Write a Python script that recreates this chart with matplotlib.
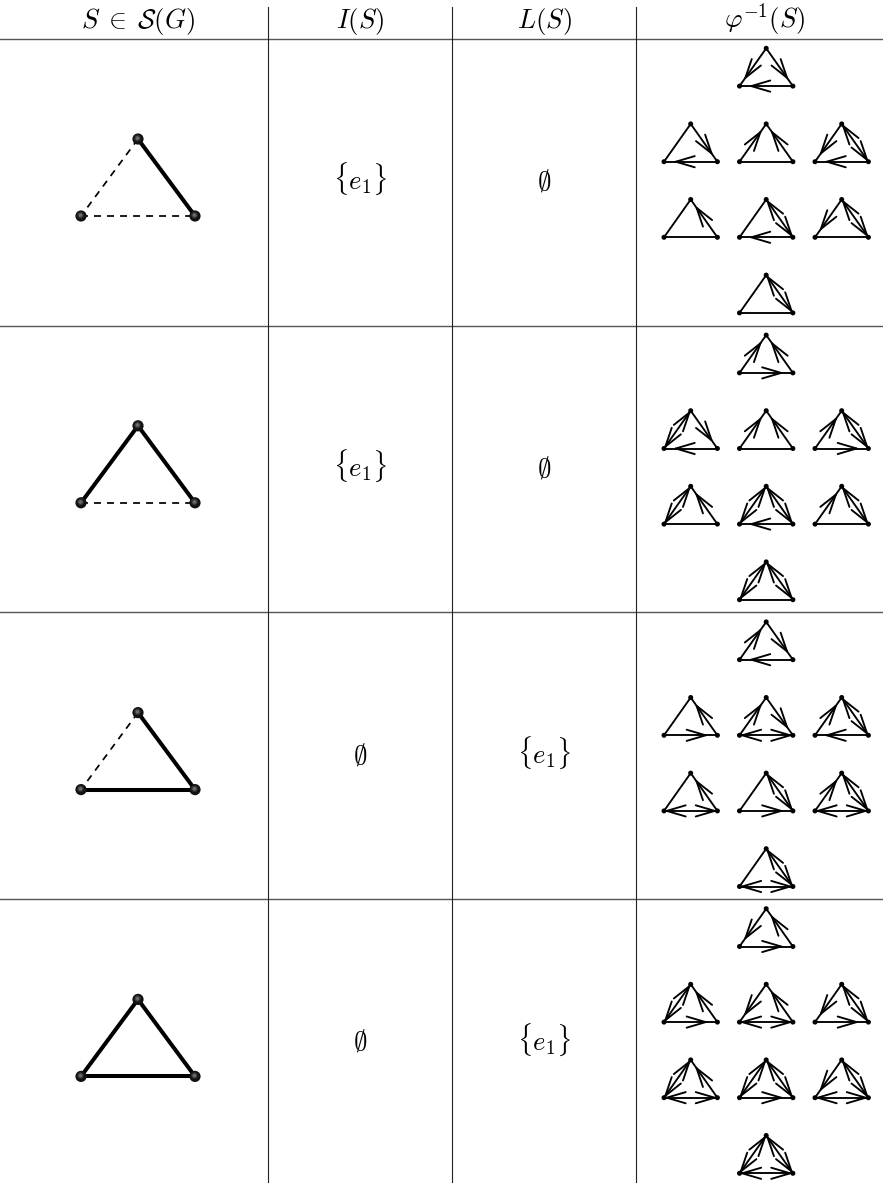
import numpy as np
import matplotlib
matplotlib.use("Agg")
import matplotlib.pyplot as plt
from matplotlib.patches import Circle

plt.rcParams['mathtext.fontset'] = 'cm'

# table text
headers = [r"$S\;\in\;\mathcal{S}(G)$", r"$I(S)$", r"$L(S)$", r"$\varphi^{-1}(S)$"]
col_I = [r"$\{e_1\}$", r"$\{e_1\}$", r"$\emptyset$", r"$\emptyset$"]
col_L = [r"$\emptyset$", r"$\emptyset$", r"$\{e_1\}$", r"$\{e_1\}$"]

# big triangles: which edge is solid (left, right, bottom)
solid = [[0, 1, 0], [1, 1, 0], [0, 1, 1], [1, 1, 1]]

# small triangles, 8 per row
# side edges: n none, d towards the base, u towards the top, b both
# bottom edge: n none, l left, r right, b both
left_edge = ["dnudnndn", "ubuubbub", "unuunnun", "dbddbbdb"]
right_edge = ["ddububbb", "udububbb", "dudbubbb", "uuububbb"]
bottom_edge = ["llnlnlnn", "rlnrnlnn", "lrblbrbb", "rrbrbrbb"]

# layout, pixels
W, H = 883, 1183
header_y = 38.7
row_h = 286.8
vlines = [268, 452, 636]
fs = 19.3

fig = plt.figure(figsize=(W / 100, H / 100), dpi=100)
ax = fig.add_axes([0, 0, 1, 1])
ax.set_xlim(0, W)
ax.set_ylim(H, 0)
ax.axis("off")

rule = "#555555"
for i in range(5):
    ax.plot([0, W], [header_y + i * row_h] * 2, color=rule, lw=1.0)
for x in vlines:
    ax.plot([x, x], [7, H], color="#222222", lw=0.8)

col_x = [138, 360, 544, 765]
for x, h in zip(col_x, headers):
    ax.text(x, 28, h, ha="center", va="baseline", fontsize=fs)


def sphere(x, y, r=5.6):
    ax.add_patch(Circle((x, y), r, color="#111111", zorder=5, lw=0))
    for f, g in zip([0.6, 0.42, 0.26], ["#2c2c2c", "#4a4a4a", "#6e6e6e"]):
        ax.add_patch(Circle((x - 0.5, y - 0.8), r * f, color=g, zorder=6, lw=0))


def big_triangle(row):
    top = 139 + row * row_h
    base = top + 77
    T, L, R = (138, top), (81, base), (195, base)
    for (a, b), s in zip([(T, L), (T, R), (L, R)], solid[row]):
        if s:
            ax.plot([a[0], b[0]], [a[1], b[1]], color="k", lw=2.9, solid_capstyle="round")
        else:
            ax.plot([a[0], b[0]], [a[1], b[1]], color="k", lw=1.25, dashes=(4, 3.5))
    for p in (T, L, R):
        sphere(*p)


def chevron(a, b, frac=0.22, along=19.0, spread=5.6):
    # arrow running from a to b, tip a bit before b
    a, b = np.array(a, float), np.array(b, float)
    u = (b - a) / np.linalg.norm(b - a)
    n = np.array([-u[1], u[0]])
    tip = b - (b - a) * frac
    for sgn in (1, -1):
        end = tip - u * along + sgn * n * spread
        ax.plot([end[0], tip[0]], [end[1], tip[1]], color="k", lw=1.35, solid_capstyle="round")


def small_triangle(cx, top, le, re, be):
    base = top + 37.8
    T, L, R = (cx, top), (cx - 26.7, base), (cx + 26.7, base)
    for a, b in [(T, L), (T, R), (L, R)]:
        ax.plot([a[0], b[0]], [a[1], b[1]], color="k", lw=1.35)
    # a lone arrow sits mid edge, a pair is pushed out to the ends
    single, pair = 0.22, 0.05
    if le in "db":
        chevron(T, L, pair if le == "b" else single)
    if le in "ub":
        chevron(L, T, pair if le == "b" else single)
    if re in "db":
        chevron(T, R, pair if re == "b" else single)
    if re in "ub":
        chevron(R, T, pair if re == "b" else single)
    if be in "lb":
        chevron(R, L, pair if be == "b" else single)
    if be in "rb":
        chevron(L, R, pair if be == "b" else single)
    for p in (T, L, R):
        ax.add_patch(Circle(p, 2.5, color="k", zorder=5, lw=0))


# 1 + 3 + 3 + 1 arrangement inside every row
slots = [(1, 0), (0, 1), (1, 1), (2, 1), (0, 2), (1, 2), (2, 2), (1, 3)]
slot_x = [690.7, 766.2, 841.7]
slot_dy = 75.6

for r in range(4):
    base_y = 189.5 + r * row_h
    ax.text(col_x[1], base_y, col_I[r], ha="center", va="baseline", fontsize=fs)
    ax.text(col_x[2], base_y, col_L[r], ha="center", va="baseline", fontsize=fs)
    big_triangle(r)
    for k, (c, s) in enumerate(slots):
        small_triangle(slot_x[c], 48.3 + r * row_h + s * slot_dy,
                       left_edge[r][k], right_edge[r][k], bottom_edge[r][k])

fig.savefig("out.png", dpi=100)
